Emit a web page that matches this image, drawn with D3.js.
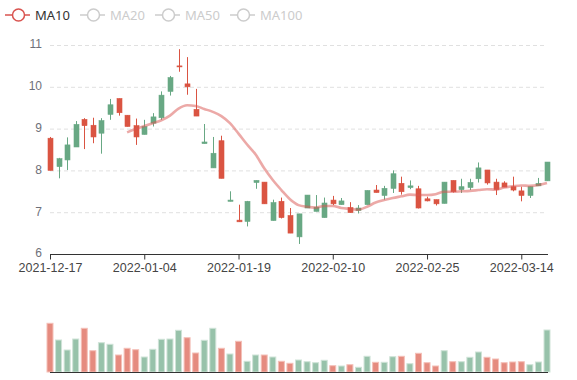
<!DOCTYPE html>
<html><head><meta charset="utf-8">
<script src="https://cdn.jsdelivr.net/npm/d3@7/dist/d3.min.js"></script>
<style>body{margin:0;background:#fff;}svg{display:block;font-family:"Noto Sans",sans-serif;}</style>
</head><body><svg id="c" width="577" height="380"></svg>
<script>
const dates = ["2021-12-17","2021-12-20","2021-12-21","2021-12-22","2021-12-23","2021-12-24","2021-12-27","2021-12-28","2021-12-29","2021-12-30","2021-12-31",
"2022-01-04","2022-01-05","2022-01-06","2022-01-07","2022-01-10","2022-01-11","2022-01-12","2022-01-13","2022-01-14","2022-01-17","2022-01-18","2022-01-19","2022-01-20","2022-01-21","2022-01-24","2022-01-25","2022-01-26","2022-01-27","2022-01-28",
"2022-02-07","2022-02-08","2022-02-09","2022-02-10","2022-02-11","2022-02-14","2022-02-15","2022-02-16","2022-02-17","2022-02-18","2022-02-21","2022-02-22","2022-02-23","2022-02-24","2022-02-25","2022-02-28",
"2022-03-01","2022-03-02","2022-03-03","2022-03-04","2022-03-07","2022-03-08","2022-03-09","2022-03-10","2022-03-11","2022-03-14","2022-03-15","2022-03-16","2022-03-17"];
const opens = [8.77,8.09,8.25,8.56,9.22,9.08,8.89,9.34,9.72,9.32,
9.07,8.86,9.13,9.26,9.89,10.50,10.07,9.46,8.64,8.06,
8.71,7.26,6.81,6.78,7.71,7.72,6.80,7.26,6.92,6.41,
7.10,7.02,6.87,7.29,7.18,7.11,7.04,7.18,7.53,7.40,
7.57,7.69,7.59,7.56,7.32,7.30,7.21,7.76,7.54,7.59,
7.80,8.01,7.72,7.70,7.61,7.51,7.40,7.63,7.75];
const closes = [8.00,8.28,8.61,9.10,9.07,8.80,9.19,9.57,9.38,9.05,
8.80,9.05,9.28,9.80,10.22,10.50,10.00,9.30,8.68,8.41,
7.81,7.29,6.77,7.26,7.76,7.20,7.23,6.87,6.50,6.96,
7.41,7.12,7.22,7.20,7.27,6.99,7.10,7.52,7.47,7.57,
7.92,7.49,7.63,7.10,7.27,7.20,7.72,7.49,7.61,7.71,
8.06,7.70,7.54,7.60,7.53,7.40,7.61,7.69,8.20];
const lows = [8.00,7.81,8.01,8.56,8.51,8.65,8.40,9.21,9.31,9.05,
8.61,8.86,9.05,9.21,9.79,10.36,9.81,9.30,8.64,8.06,
7.81,7.26,6.77,6.66,7.56,7.20,6.80,6.85,6.50,6.24,
7.10,7.02,6.87,7.17,7.18,6.99,6.97,7.18,7.47,7.30,
7.46,7.42,7.55,7.09,7.26,7.16,7.21,7.47,7.46,7.53,
7.71,7.66,7.41,7.60,7.50,7.26,7.34,7.63,7.75];
const highs = [8.80,8.30,8.79,9.18,9.25,9.26,9.25,9.71,9.72,9.32,
9.24,9.21,9.37,9.89,10.26,10.90,10.71,9.95,9.11,8.80,
8.83,7.50,7.18,7.27,7.76,7.72,7.30,7.35,7.10,6.96,
7.41,7.41,7.35,7.39,7.34,7.24,7.17,7.52,7.65,7.63,
8.00,7.85,7.76,7.63,7.37,7.30,7.72,7.76,7.80,7.80,
8.19,8.01,7.80,7.74,7.85,7.61,7.61,7.82,8.20];
const volumes = [487,320,220,330,437,213,293,277,170,237,
223,150,227,327,330,417,343,190,317,437,
237,180,307,107,170,170,150,107,87,120,
103,93,117,63,60,73,47,157,97,97,
153,157,83,187,93,60,213,103,103,147,
200,147,130,93,100,103,73,100,420];
const ma10 = [null,null,null,null,null,null,null,null,null,
8.91,8.99,9.06,9.13,9.20,9.31,9.48,9.56,9.54,9.47,9.40,
9.30,9.13,8.88,8.62,8.38,8.05,7.77,7.53,7.31,7.17,
7.13,7.11,7.15,7.15,7.10,7.08,7.06,7.13,7.23,7.29,
7.34,7.38,7.42,7.41,7.41,7.43,7.49,7.49,7.50,7.51,
7.53,7.55,7.54,7.59,7.62,7.64,7.63,7.65,7.70];
const yTicks = [6,7,8,9,10,11];
const legendNames = ["MA10","MA20","MA50","MA100"];
const legendActive = [true,false,false,false];

const RED = "#da5442", GREEN = "#68a884";
const VRED = "#e58b7f", VGREEN = "#97c2aa";
const AXFONT = "Liberation Sans, Arial, sans-serif";
const svg = d3.select("#c");

const x = d3.scalePoint().domain(dates).range([50, 547]);
const y = d3.scaleLinear().domain([6, 11]).range([254, 45]);
const yv = d3.scaleLinear().domain([0, 500]).range([372, 322]);

// gridlines
svg.append("g").selectAll("line").data(yTicks.filter(t => t !== 6)).join("line")
  .attr("x1", 50).attr("x2", 547)
  .attr("y1", d => y(d) + 0.5).attr("y2", d => y(d) + 0.5)
  .attr("stroke", "#e0e0e0").attr("stroke-dasharray", "4,3");

// y labels
svg.append("g").selectAll("text").data(yTicks).join("text")
  .attr("x", 42).attr("y", d => y(d)).attr("dy", "0.28em")
  .attr("text-anchor", "end").attr("font-size", 12).attr("fill", "#6e7079")
  .attr("font-family", AXFONT)
  .text(d => d);

// x axis
const tickDates = dates.filter((d, i) => i % 11 === 0);
const xAxis = d3.axisBottom(x).tickValues(tickDates).tickSize(5).tickPadding(4);
const gx = svg.append("g").attr("transform", "translate(0,254.5)").call(xAxis);
gx.select(".domain").attr("stroke", "#333").attr("d", "M50,0H548");
gx.selectAll(".tick line").attr("stroke", "#333");
gx.selectAll(".tick text").attr("font-size", 12.5).attr("fill", "#444").attr("font-family", AXFONT);

// candles
const cw = 5;
const idx = d3.range(dates.length);
const cg = svg.append("g");
cg.selectAll("line").data(idx).join("line")
  .attr("x1", i => Math.round(x(dates[i])) + 0.5).attr("x2", i => Math.round(x(dates[i])) + 0.5)
  .attr("y1", i => y(highs[i])).attr("y2", i => y(lows[i]))
  .attr("stroke", i => closes[i] > opens[i] ? GREEN : RED).attr("stroke-width", 1);
cg.selectAll("rect").data(idx).join("rect")
  .attr("x", i => Math.round(x(dates[i])) + 0.5 - cw / 2)
  .attr("width", cw)
  .attr("y", i => y(Math.max(opens[i], closes[i])))
  .attr("height", i => Math.max(1, Math.abs(y(opens[i]) - y(closes[i]))))
  .attr("fill", i => closes[i] > opens[i] ? GREEN : RED)
  .attr("stroke", i => closes[i] > opens[i] ? GREEN : RED).attr("stroke-width", 0.6);

// MA10 line
const line = d3.line().defined(d => d[1] != null)
  .x(d => x(d[0])).y(d => y(d[1])).curve(d3.curveMonotoneX);
svg.append("path").datum(dates.map((d, i) => [d, ma10[i]]))
  .attr("d", line).attr("fill", "none")
  .attr("stroke", "#d9534f").attr("stroke-opacity", 0.5).attr("stroke-width", 2.6);

// volume
svg.append("g").selectAll("rect").data(idx).join("rect")
  .attr("x", i => x(dates[i]) - 3)
  .attr("width", 6)
  .attr("y", i => yv(volumes[i]))
  .attr("height", i => yv(0) - yv(volumes[i]))
  .attr("fill", i => closes[i] >= opens[i] ? VGREEN : VRED)
  .attr("stroke", i => closes[i] >= opens[i] ? "#cfe3d7" : "#f4c0b8").attr("stroke-width", 1);
svg.append("line").attr("x1", 50).attr("x2", 548).attr("y1", 372.5).attr("y2", 372.5)
  .attr("stroke", "#333");

// legend
const lx = [5, 80, 155, 230];
const lg = svg.append("g").selectAll("g").data(legendNames).join("g")
  .attr("transform", (d, i) => `translate(${lx[i]},15)`);
lg.append("line").attr("x1", 0).attr("x2", 25).attr("y1", 0).attr("y2", 0)
  .attr("stroke", (d, i) => legendActive[i] ? "#d9534f" : "#ccc").attr("stroke-width", 1.5);
lg.append("circle").attr("cx", 13.5).attr("cy", 0).attr("r", 6)
  .attr("fill", "#fff").attr("stroke", (d, i) => legendActive[i] ? "#d9534f" : "#ccc").attr("stroke-width", 1.5);
lg.append("text").attr("x", 30).attr("y", 0).attr("dy", "0.35em")
  .attr("font-size", 13).attr("fill", (d, i) => legendActive[i] ? "#333" : "#ccc")
  .text(d => d);
</script></body></html>
